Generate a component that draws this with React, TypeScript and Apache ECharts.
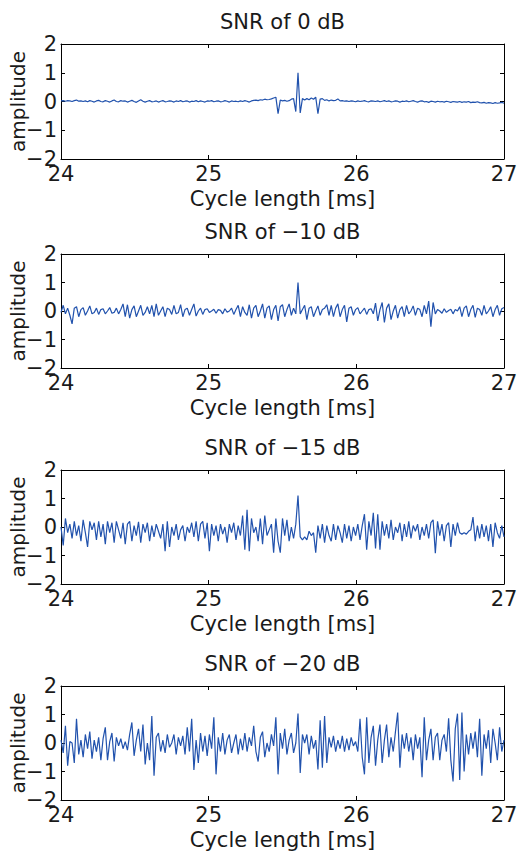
import React, { useEffect, useRef } from "react";
import * as echarts from "echarts";

const titles = ["SNR of 0 dB", "SNR of \u221210 dB", "SNR of \u221215 dB", "SNR of \u221220 dB"];
const xName = "Cycle length [ms]";
const yName = "amplitude";
const xMin = 24;
const xMax = 27;
const yMin = -2;
const yMax = 2;
const sampleStart = 24;
const sampleStep = 0.015;

const snr0 = [
  0.02, 0.03, 0.01, 0.03, 0.02, 0.0, 0.03, 0.05, 0.01, 0.02,
  0.0, 0.02, -0.01, 0.03, 0.01, -0.02, 0.02, 0.04, 0.0, -0.01,
  0.03, 0.01, -0.02, 0.02, 0.05, 0.0, -0.01, 0.03, 0.01, 0.02,
  -0.02, 0.01, 0.04, 0.0, -0.03, 0.02, 0.06, 0.01, -0.02, 0.01,
  0.03, -0.01, 0.0, 0.02, -0.02, 0.01, 0.03, -0.01, 0.0, 0.02,
  0.01, -0.02, 0.02, 0.0, 0.03, -0.01, 0.01, 0.02, -0.02, 0.01,
  0.0, 0.03, -0.01, 0.02, 0.0, -0.02, 0.02, 0.01, 0.03, -0.01,
  0.01, 0.02, -0.01, 0.0, 0.03, 0.01, -0.02, 0.02, 0.0, 0.01,
  -0.01, 0.02, 0.0, 0.03, 0.01, -0.02, 0.02, 0.04, 0.05, 0.03,
  0.06, 0.05, 0.08, 0.06, 0.07, 0.09, 0.12, 0.15, -0.42, 0.05,
  0.02, 0.04, 0.01, 0.03, 0.08, 0.1, -0.35, 1.0, -0.4, 0.1,
  0.05, 0.1, 0.06, 0.12, 0.08, 0.15, -0.42, 0.08, 0.1, 0.04,
  0.06, 0.02, 0.05, 0.03, 0.04, 0.09, 0.02, 0.03, 0.01, 0.02,
  0.0, 0.02, 0.01, -0.01, 0.02, 0.0, 0.01, 0.03, 0.0, -0.01,
  0.02, 0.01, 0.0, 0.02, -0.01, 0.01, 0.03, 0.0, 0.02, -0.01,
  0.0, 0.02, 0.01, -0.02, 0.01, 0.0, 0.02, -0.01, 0.01, 0.03,
  0.0, -0.02, 0.01, 0.02, -0.01, 0.0, -0.03, 0.01, 0.0, -0.02,
  0.01, -0.01, 0.0, -0.02, 0.01, -0.01, -0.03, 0.0, -0.01, -0.02,
  0.0, -0.03, -0.01, -0.02, 0.0, -0.04, -0.02, -0.03, -0.01, -0.04,
  -0.05, -0.03, -0.06, -0.04, -0.05, -0.07, -0.04, -0.06, -0.05, -0.03, -0.06,
];

const snrMinus10 = [
  -0.05, 0.2, -0.1, 0.1, -0.15, -0.45, 0.1, 0.15, -0.2, 0.05,
  0.12, -0.15, 0.0, 0.18, -0.1, -0.05, 0.1, -0.12, 0.05, 0.08,
  -0.1, 0.0, 0.12, -0.08, -0.05, 0.1, -0.1, 0.05, 0.25, -0.2,
  0.22, -0.25, 0.05, 0.18, -0.2, 0.0, 0.2, -0.15, -0.05, 0.15,
  -0.1, 0.2, -0.2, 0.25, -0.15, 0.0, 0.15, -0.2, 0.1, 0.05,
  -0.12, 0.2, -0.1, -0.05, 0.22, -0.2, 0.05, 0.1, -0.15, 0.05,
  0.25, -0.18, 0.0, 0.1, -0.12, 0.05, 0.08, -0.05, 0.0, 0.06,
  -0.08, 0.05, 0.02, -0.1, 0.08, -0.04, 0.0, 0.1, -0.12, 0.05,
  0.2, -0.2, 0.15, -0.05, -0.15, 0.22, -0.25, 0.1, 0.2, -0.2,
  0.0, 0.25, -0.25, 0.1, 0.18, -0.3, 0.05, 0.2, -0.35, 0.15,
  0.22, -0.2, 0.05, 0.25, -0.15, 0.1, -0.1, 1.0, -0.1, 0.05,
  0.2, -0.3, 0.1, 0.15, -0.2, 0.0, 0.18, -0.15, 0.05, 0.1,
  0.22, -0.15, 0.2, -0.2, 0.1, 0.25, -0.2, 0.05, 0.2, -0.38,
  0.1, 0.15, -0.15, 0.05, 0.12, -0.1, 0.0, 0.1, -0.12, 0.05,
  0.08, -0.1, 0.28, -0.35, 0.05, 0.3, -0.4, 0.1, 0.25, -0.3,
  0.0, 0.2, -0.25, 0.05, 0.15, -0.2, 0.2, -0.1, 0.0, 0.18,
  -0.15, 0.1, 0.05, -0.2, 0.2, -0.1, 0.35, -0.55, 0.3, -0.1,
  0.05, 0.0, -0.08, 0.08, -0.05, 0.02, 0.06, -0.1, 0.05, 0.0,
  0.15, -0.2, 0.1, 0.18, -0.2, 0.05, 0.2, -0.22, 0.1, 0.05,
  -0.15, 0.2, -0.1, 0.0, 0.15, -0.2, 0.05, 0.2, -0.15, 0.08, 0.12,
];

const snrMinus15 = [
  0.0, -0.65, 0.3, -0.2, 0.1, -0.4, 0.2, -0.3, 0.05, -0.5,
  0.25, -0.2, -0.7, 0.2, -0.1, 0.15, -0.45, 0.2, -0.35, 0.1,
  -0.6, 0.2, -0.2, 0.15, -0.55, 0.2, -0.1, -0.4, 0.15, -0.6,
  0.1, 0.2, -0.5, 0.05, -0.3, 0.18, -0.55, 0.1, -0.2, 0.15,
  -0.5, 0.05, -0.35, 0.1, -0.15, -0.4, 0.1, -0.85, 0.2, -0.7,
  0.0, -0.3, 0.1, -0.45, -0.1, 0.05, -0.5, 0.0, -0.2, 0.15,
  -0.35, 0.2, -0.5, 0.1, 0.2, -0.4, 0.15, -0.85, 0.1, -0.3,
  0.05, -0.5, 0.1, -0.25, 0.0, -0.55, 0.1, -0.2, 0.15, -0.45,
  0.05, -0.3, 0.4, -0.8, 0.6, -0.85, 0.3, -0.2, 0.0, -0.5,
  0.3, -0.6, 0.4, -0.3, -0.1, 0.1, -0.9, 0.3, -0.5, -0.9,
  0.3, -0.3, 0.25, -0.5, 0.0, -0.4, 0.1, 1.1, -0.35, -0.45,
  -0.35, -0.45, -0.15, -0.3, -0.2, -0.9, 0.05, -0.4, 0.1, -0.55,
  0.05, -0.3, -0.5, 0.1, -0.45, 0.05, -0.2, -0.55, 0.1, -0.4,
  0.05, -0.5, 0.0, -0.3, 0.1, -0.45, 0.05, 0.45, -0.8, 0.2,
  -0.3, 0.5, -0.75, 0.45, -0.8, 0.2, -0.3, 0.1, -0.4, 0.25,
  -0.45, 0.0, -0.2, 0.15, -0.5, 0.1, -0.35, 0.2, -0.4, 0.05,
  -0.15, 0.1, -0.45, 0.0, -0.3, 0.1, -0.4, 0.15, 0.25, -0.92,
  0.2, -0.3, 0.1, -0.5, 0.05, 0.15, -0.7, 0.1, -0.3, 0.15,
  -0.2, -0.25, -0.2, -0.25, -0.15, -0.1, 0.35, -0.5, 0.05, -0.4,
  0.1, -0.35, 0.05, -0.5, 0.1, -0.7, 0.15, -0.2, -0.4, 0.05, -0.35,
];

const snrMinus20 = [
  0.1, -0.35, 0.6, -0.8, 0.05, 0.0, -0.7, 0.85, -0.4, 0.1,
  -0.5, 0.3, -0.2, 0.4, -0.55, 0.1, -0.3, 0.2, -0.6, 0.15,
  0.55, -0.6, 0.05, 0.35, -0.65, 0.2, -0.1, 0.15, -0.2, 0.05,
  -0.25, 0.3, 0.72, -0.45, 0.1, 0.5, -0.3, 0.65, -0.75, 0.0,
  -0.6, 0.95, -1.15, 0.2, 0.35, -0.3, 0.1, -0.35, 0.3, -0.15,
  0.0, 0.3, -0.4, 0.2, -0.1, 0.25, -0.4, 0.55, -0.3, 0.85,
  -0.95, 0.1, -0.7, 0.35, -0.3, 0.25, -0.45, 0.3, -0.2, 0.9,
  -1.1, 0.2, -0.3, 0.35, -0.4, 0.1, 0.3, -0.35, 0.0, 0.3,
  -0.4, 0.15, -0.25, 0.35, -0.3, 0.2, -0.1, 0.6, -0.3, -0.65,
  0.2, 0.4, -0.5, 0.0, -0.3, 0.3, -0.1, 0.9, -1.1, 0.35,
  -0.2, 0.5, -0.4, 0.1, 0.35, -0.35, 0.0, 1.03, -1.05, 0.3,
  0.0, 0.3, -0.4, 0.25, -0.2, 0.1, -0.93, 0.8, -0.87, 0.95,
  -0.7, 0.2, -0.15, 0.25, -0.3, 0.1, -0.2, 0.25, -0.3, 0.15,
  -0.25, 0.2, -0.1, 0.05, -0.3, 0.85, -0.5, -1.1, 0.9, -0.7,
  0.2, 0.6, -0.8, 0.1, 0.65, -0.7, 0.1, 0.65, -0.5, 0.2,
  -0.3, 0.4, 1.07, -0.87, 0.3, -0.2, 0.35, -0.3, 0.2, -0.6,
  0.3, -0.2, 0.2, -1.2, 0.9, -0.6, 0.1, 0.5, -0.6, 0.2,
  0.35, -0.6, 0.1, 0.3, -0.3, 0.87, -0.6, -1.35, 0.5, 1.03,
  -1.3, 1.07, -1.0, 0.3, -0.4, 0.35, -0.2, 0.4, -0.5, 0.85,
  -1.15, 0.3, -0.2, 0.45, -0.7, 0.5, 0.0, -0.6, 0.55, -0.3, 0.1,
];

const seriesValues = [snr0, snrMinus10, snrMinus15, snrMinus20];

const FONT = '"DejaVu Sans", "Noto Sans CJK JP", sans-serif';
const LINE_COLOR = "#2152ad";
const TEXT_COLOR = "#1a1a1a";
const gridTops = [44, 254, 470, 686];
const gridHeights = [115, 114, 114, 114];
const GRID_LEFT = 61;
const GRID_WIDTH = 443;

const minus = (v: number) => String(v).replace("-", "\u2212");

export default function App() {
  const ref = useRef<HTMLDivElement>(null);
  useEffect(() => {
    if (!ref.current) return;
    const chart = echarts.init(ref.current, undefined, { renderer: "svg" });
    const grids: any[] = [];
    const xAxes: any[] = [];
    const yAxes: any[] = [];
    const series: any[] = [];
    const title: any[] = [];
    const axisLine = { show: true, onZero: false, lineStyle: { color: "#000", width: 1 } };
    const axisTick = { show: true, inside: true, length: 4, lineStyle: { color: "#000", width: 1 } };
    seriesValues.forEach((vals, g) => {
      grids.push({
        left: GRID_LEFT, top: gridTops[g], width: GRID_WIDTH, height: gridHeights[g],
        containLabel: false, outerBoundsMode: "none",
      });
      title.push({
        text: titles[g],
        left: GRID_LEFT + GRID_WIDTH / 2,
        textAlign: "center",
        top: gridTops[g] - 33,
        padding: 0,
        textStyle: { fontFamily: FONT, fontSize: 21, lineHeight: 22, fontWeight: "normal", color: TEXT_COLOR },
      });
      xAxes.push({
        type: "value", gridIndex: g, position: "bottom", min: xMin, max: xMax, interval: 1,
        axisLine, axisTick, splitLine: { show: false },
        axisLabel: { fontFamily: FONT, fontSize: 21, color: TEXT_COLOR, margin: 4, formatter: minus },
        name: xName, nameLocation: "middle", nameGap: 29,
        nameTextStyle: { fontFamily: FONT, fontSize: 21, color: TEXT_COLOR },
      });
      xAxes.push({
        type: "value", gridIndex: g, position: "top", min: xMin, max: xMax, interval: 1,
        axisLine, axisTick, splitLine: { show: false }, axisLabel: { show: false },
      });
      yAxes.push({
        type: "value", gridIndex: g, position: "left", min: yMin, max: yMax, interval: 1,
        axisLine, axisTick, splitLine: { show: false },
        axisLabel: { fontFamily: FONT, fontSize: 21, color: TEXT_COLOR, margin: 4, formatter: minus },
        name: yName, nameLocation: "middle", nameGap: 33, nameMoveOverlap: false,
        nameTextStyle: { fontFamily: FONT, fontSize: 20, color: TEXT_COLOR },
      });
      yAxes.push({
        type: "value", gridIndex: g, position: "right", min: yMin, max: yMax, interval: 1,
        axisLine, axisTick, splitLine: { show: false }, axisLabel: { show: false },
      });
      series.push({
        type: "line",
        xAxisIndex: g * 2,
        yAxisIndex: g * 2,
        data: vals.map((v, i) => [sampleStart + i * sampleStep, v]),
        showSymbol: false,
        symbol: "none",
        lineStyle: { color: LINE_COLOR, width: 1.2 },
        silent: true,
      });
    });
    chart.setOption({
      animation: false,
      backgroundColor: "#fff",
      title,
      grid: grids,
      xAxis: xAxes,
      yAxis: yAxes,
      series,
    });
    return () => chart.dispose();
  }, []);
  return <div ref={ref} style={{ position: "absolute", left: 0, top: 0, width: 517, height: 854 }} />;
}
